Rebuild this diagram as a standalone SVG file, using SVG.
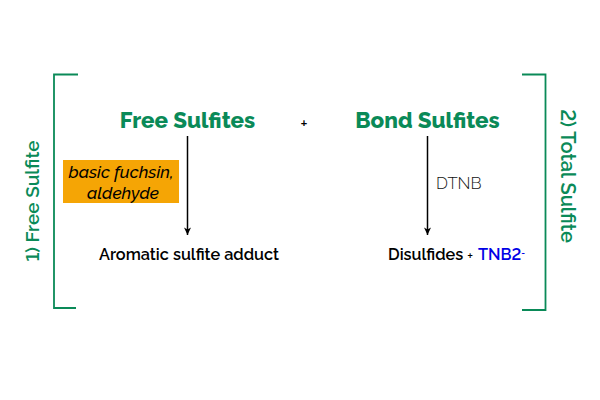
<svg xmlns="http://www.w3.org/2000/svg" width="600" height="400" viewBox="0 0 600 400">
<defs><marker id="a" markerUnits="userSpaceOnUse" markerWidth="8" markerHeight="10" refX="4" refY="9" orient="0"><path d="M0.500 1.500L4 3.500L7.500 1.500L4 9Z" fill="#000"/></marker></defs>
<style>text{font-family:Raleway,Lato,"Liberation Sans",sans-serif;font-feature-settings:"lnum"}
.g{fill:#0a8a58;font-weight:800}.l{fill:#0a8a58;font-weight:600}.b{fill:#000;font-weight:600;font-size:16.300px}.br{fill:none;stroke:#0a8a58;stroke-width:1.800}.p{font-family:"Liberation Sans",sans-serif;font-weight:700;fill:#000}</style>
<rect width="600" height="400" fill="#fff"/>
<g id="connectors"><path d="M187.500 136V235" stroke="#000" stroke-width="1.500" marker-end="url(#a)"/><path d="M427.500 136V235" stroke="#000" stroke-width="1.500" marker-end="url(#a)"/></g>
<g id="bracket-left"><path class="br" d="M78 74.500H54V308H76"/></g>
<g id="bracket-right"><path class="br" d="M522 74.500H545.500V310H522"/></g>
<g id="free-sulfites"><text class="g" x="187.500" y="127.500" font-size="22.400" text-anchor="middle">Free Sulfites</text></g>
<g id="plus"><text class="p" x="304" y="126.500" font-size="11" text-anchor="middle">+</text></g>
<g id="bond-sulfites"><text class="g" x="427.500" y="127.500" font-size="22.400" text-anchor="middle">Bond Sulfites</text></g>
<g id="reagent"><rect x="63" y="160" width="116" height="43" fill="#f5a505"/><text x="121" y="178" font-size="17" font-style="italic" font-weight="500" text-anchor="middle">basic fuchsin,</text><text x="123" y="199" font-size="17" font-style="italic" font-weight="500" text-anchor="middle">aldehyde</text></g>
<g id="dtnb"><text x="436" y="189" font-size="16.700" font-weight="300" fill="#111">DTNB</text></g>
<g id="adduct"><text class="b" x="189" y="259.500" text-anchor="middle">Aromatic sulfite adduct</text></g>
<g id="disulfides"><text class="b" x="388" y="259.500">Disulfides</text><text class="p" x="467.500" y="258.500" font-size="9">+</text><text x="478" y="259.500" font-size="16.300" font-weight="600" fill="#0000e6">TNB2<tspan font-size="9" dy="-4">-</tspan></text></g>
<g id="label-free"><text class="l" transform="translate(39 201) rotate(-90)" font-size="19" text-anchor="middle">1) Free Sulfite</text></g>
<g id="label-total"><text class="l" transform="translate(561 176) rotate(90)" font-size="20" text-anchor="middle">2) Total Sulfite</text></g>
</svg>
